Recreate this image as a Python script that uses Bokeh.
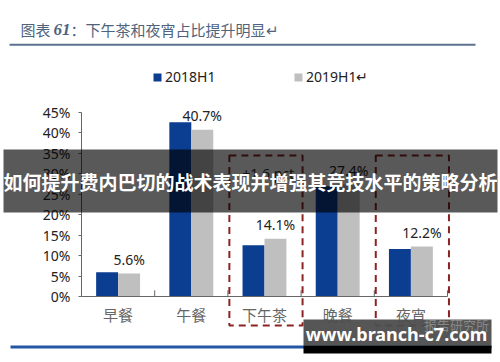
from bokeh.plotting import figure
from bokeh.models import (Range1d, ColumnDataSource, Legend, LegendItem, Label,
                          BoxAnnotation, PolyAnnotation, PrintfTickFormatter, FixedTicker)
from bokeh.embed import file_html
from bokeh.resources import INLINE
from bokeh.core.properties import value

# ---------------- data ----------------
categories = ["早餐", "午餐", "下午茶", "晚餐", "夜宵"]
share_2018h1 = [5.9, 42.5, 12.5, 26.9, 11.6]
share_2019h1 = [5.6, 40.7, 14.1, 27.4, 12.2]
labels_2019h1 = ["5.6%", "40.7%", "14.1%", "27.4%", "12.2%"]
y_ticks = [0, 5, 10, 15, 20, 25, 30, 35, 40, 45]
highlighted = ["下午茶", "夜宵"]
highlight_note = "+1.6 pct"
title_pre, title_num, title_post = "图表", "61", "：下午茶和夜宵占比提升明显↵"
banner_text = "如何提升费内巴切的战术表现并增强其竞技水平的策略分析"
watermark = "www.branch-c7.com"
watermark_faint = "报告研究所"

# ---------------- layout helpers (picture px -> data) ----------------
W, H = 500, 362
AX_L, AX_R, AX_B = 81, 447, 296          # axis positions in picture px
PX_PER_CAT = (AX_R - AX_L) / len(categories)
PX_PER_PCT = 4.1
def dx(px):
    # category i is centred at x = i
    return (px - AX_L) / PX_PER_CAT - 0.5
def dy(py):
    return (AX_B - py) / PX_PER_PCT

BLUE = "#0b3d91"
GRAY = "#bfbfbf"
RED = "#8c2323"
CJK = "Noto Sans CJK SC"

idx = list(range(len(categories)))
src = ColumnDataSource(dict(
    x18=[i - 0.15 for i in idx], x19=[i + 0.15 for i in idx],
    a=share_2018h1, b=share_2019h1, lab=labels_2019h1))

p = figure(width=W, height=H, output_backend="svg", toolbar_location=None,
           x_range=Range1d(dx(0), dx(W)), y_range=Range1d(dy(H), dy(0)),
           min_border=0, min_border_left=0, min_border_right=0,
           min_border_top=0, min_border_bottom=0,
           background_fill_color="white", border_fill_color="white")
p.outline_line_color = None
p.xgrid.visible = False
p.ygrid.visible = False

# axes (fixed inside the frame)
ya = p.yaxis[0]
ya.fixed_location = dx(AX_L)
ya.ticker = FixedTicker(ticks=y_ticks)
ya.formatter = PrintfTickFormatter(format="%d%%")
ya.bounds = (0, 45)
ya.axis_line_color = "#666666"
ya.major_tick_line_color = "#666666"
ya.major_tick_out = 3
ya.major_tick_in = 0
ya.minor_tick_line_color = None
ya.major_label_text_font = "Noto Sans"
ya.major_label_text_font_size = "14px"
ya.major_label_text_color = "#222222"
ya.major_label_standoff = 8

xa = p.xaxis[0]
xa.fixed_location = 0
xa.ticker = FixedTicker(ticks=idx)
xa.major_label_overrides = {i: c for i, c in zip(idx, categories)}
xa.bounds = (dx(AX_L), dx(AX_R))
xa.axis_line_color = "#666666"
xa.major_tick_line_color = None
xa.major_tick_out = 0
xa.major_tick_in = 0
xa.minor_tick_line_color = None
xa.major_label_text_font = CJK
xa.major_label_text_font_size = "15px"
xa.major_label_text_color = "#666666"
xa.major_label_standoff = 7

# category boundary ticks (inside)
bx = [i + 0.5 for i in idx]
p.segment(x0=bx, y0=[0] * len(bx), x1=bx, y1=[1.5] * len(bx),
          line_color="#666666", line_width=1)

# bars
r18 = p.vbar(x="x18", top="a", width=0.3, source=src, fill_color=BLUE, line_color=None)
r19 = p.vbar(x="x19", top="b", width=0.3, source=src, fill_color=GRAY, line_color=None)

p.text(x="x19", y="b", text="lab", source=src,
       y_offset=-14, text_align="center", text_baseline="middle",
       text_font=value("Noto Sans"), text_font_size="14px", text_color="#222222")

# legends
for r, name, px in [(r18, "2018H1", 152), (r19, "2019H1↵", 293)]:
    lg = Legend(items=[LegendItem(label=name, renderers=[r])],
                location=(px, H - 86), orientation="horizontal",
                padding=0, margin=0, border_line_color=None, background_fill_alpha=0,
                glyph_width=10, glyph_height=10, label_height=16, label_standoff=3,
                label_text_font="Noto Sans", label_text_font_size="14px",
                label_text_color="#222222")
    p.add_layout(lg)

# title and rules
TC = "#4f637c"
p.add_layout(Label(x=dx(20), y=dy(29), text=title_pre, text_baseline="middle",
                   text_font=CJK, text_font_size="15px", text_color=TC))
p.add_layout(Label(x=dx(53), y=dy(29), text=title_num, text_baseline="middle",
                   text_font="Liberation Serif", text_font_style="bold italic",
                   text_font_size="17px", text_color=TC))
p.add_layout(Label(x=dx(70), y=dy(29), text=title_post, text_baseline="middle",
                   text_font=CJK, text_font_size="15px", text_color=TC))
p.add_layout(BoxAnnotation(left=dx(9), right=dx(475), top=dy(43.3), bottom=dy(45.3),
                           fill_color="#5b7290", fill_alpha=1, line_color=None))
p.add_layout(BoxAnnotation(left=dx(10), right=dx(491), top=dy(345), bottom=dy(348),
                           fill_color="#2456a4", fill_alpha=1, line_color=None))

# highlight boxes
for c in highlighted:
    i = categories.index(c)
    x0, x1 = i - 0.48, i + 0.52
    p.add_layout(PolyAnnotation(xs=[x0, x1, x1, x0], ys=[dy(155), dy(155), dy(325), dy(325)],
                                fill_alpha=0, line_color=RED, line_alpha=1, line_width=2,
                                line_dash="7 5"))
i = categories.index(highlighted[0])
p.add_layout(Label(x=i + 0.05, y=dy(173), text=highlight_note, text_align="center",
                   text_baseline="middle", text_font="Noto Sans", text_font_size="14px",
                   text_color="#333333"))

# overlay banner
p.add_layout(BoxAnnotation(left=dx(3), right=dx(497), top=dy(149), bottom=dy(212),
                           fill_color="black", fill_alpha=0.65, line_color=None))
p.add_layout(Label(x=dx(250), y=dy(181), text=banner_text, text_align="center",
                   text_baseline="middle", text_font=CJK, text_font_style="bold",
                   text_font_size="19px", text_color="white"))

# watermark
p.add_layout(BoxAnnotation(left=dx(303), right=dx(491), top=dy(319), bottom=dy(345),
                           fill_color="#4d4d4d", fill_alpha=0.95, line_color=None))
p.add_layout(BoxAnnotation(left=dx(303), right=dx(491), top=dy(345), bottom=dy(353),
                           fill_color="black", fill_alpha=1, line_color=None))
p.add_layout(Label(x=dx(456), y=dy(324), text=watermark_faint, text_align="center",
                   text_baseline="middle", text_font=CJK, text_font_size="13px",
                   text_color="#aaaaaa", text_alpha=0.6))
p.add_layout(Label(x=dx(396), y=dy(333), text=watermark, text_align="center",
                   text_baseline="middle", text_font="Noto Sans", text_font_style="bold",
                   text_font_size="18px", text_color="white"))

open("out.html", "w").write(file_html(p, INLINE))
